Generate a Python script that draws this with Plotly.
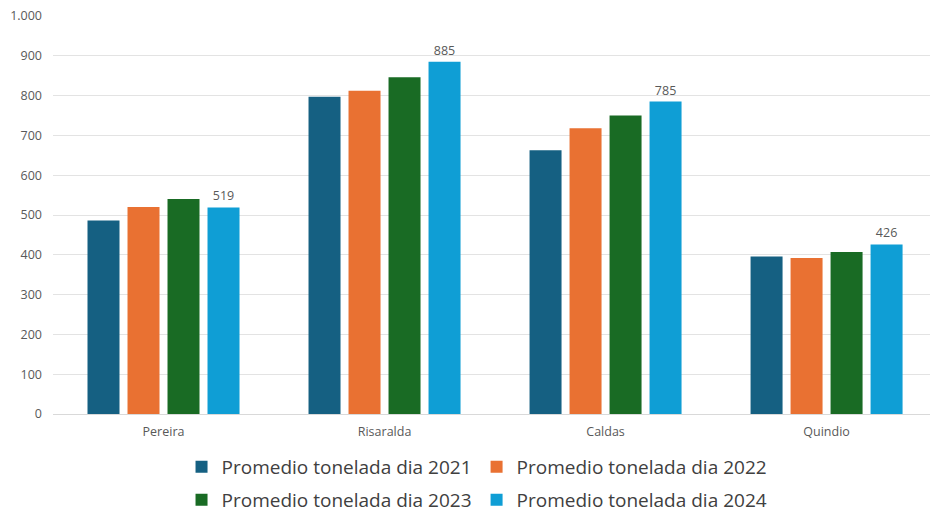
import plotly.graph_objects as go

# Average daily tonnage by territory and year
categories = ["Pereira", "Risaralda", "Caldas", "Quindio"]
years = ["2021", "2022", "2023", "2024"]
prom_2021 = [486, 797, 663, 396]
prom_2022 = [520, 812, 718, 392]
prom_2023 = [540, 846, 750, 407]
prom_2024 = [519, 885, 785, 426]
colors = ["#156082", "#E97132", "#196B24", "#0F9ED5"]

series = [prom_2021, prom_2022, prom_2023, prom_2024]
font_family = "Open Sans, Lato, sans-serif"

fig = go.Figure()
for i, (year, vals, col) in enumerate(zip(years, series, colors)):
    labelled = year == "2024"
    fig.add_trace(go.Bar(
        x=categories,
        y=vals,
        name=f"Promedio tonelada dia {year}",
        marker=dict(color=col, line=dict(width=0)),
        text=[f"{v}" for v in vals] if labelled else None,
        textposition="outside" if labelled else "none",
        textfont=dict(size=12.5, color="#595959", family=font_family),
        cliponaxis=False,
        legend="legend" if i < 2 else "legend2",
    ))

# Two legend rows, two entries each, under the plot
legend_style = dict(
    orientation="h",
    xanchor="center",
    x=0.4835,
    yanchor="middle",
    font=dict(size=19, color="#404040", family=font_family),
    bgcolor="rgba(0,0,0,0)",
    itemwidth=30,
    tracegroupgap=0,
)

fig.update_layout(
    width=930,
    height=513,
    margin=dict(l=53, r=0, t=16, b=99, autoexpand=False),
    paper_bgcolor="white",
    plot_bgcolor="white",
    barmode="group",
    bargap=0.276,
    bargroupgap=0.2,
    separators=",.",
    font=dict(family=font_family, color="#595959"),
    showlegend=True,
    legend=dict(legend_style, y=-0.133),
    legend2=dict(legend_style, y=-0.216),
    xaxis=dict(
        range=[-0.5, 3.468],
        showgrid=False,
        showline=True,
        linecolor="#d9d9d9",
        linewidth=1,
        ticks="",
        ticklabelstandoff=6,
        tickfont=dict(size=12.5, color="#595959"),
    ),
    yaxis=dict(
        range=[0, 1000],
        dtick=100,
        tickformat=",d",
        showgrid=True,
        gridcolor="#e3e3e3",
        gridwidth=1,
        zeroline=False,
        showline=False,
        ticks="",
        ticklabelstandoff=10,
        tickfont=dict(size=12.5, color="#595959"),
    ),
)

fig.write_html("out.html")
